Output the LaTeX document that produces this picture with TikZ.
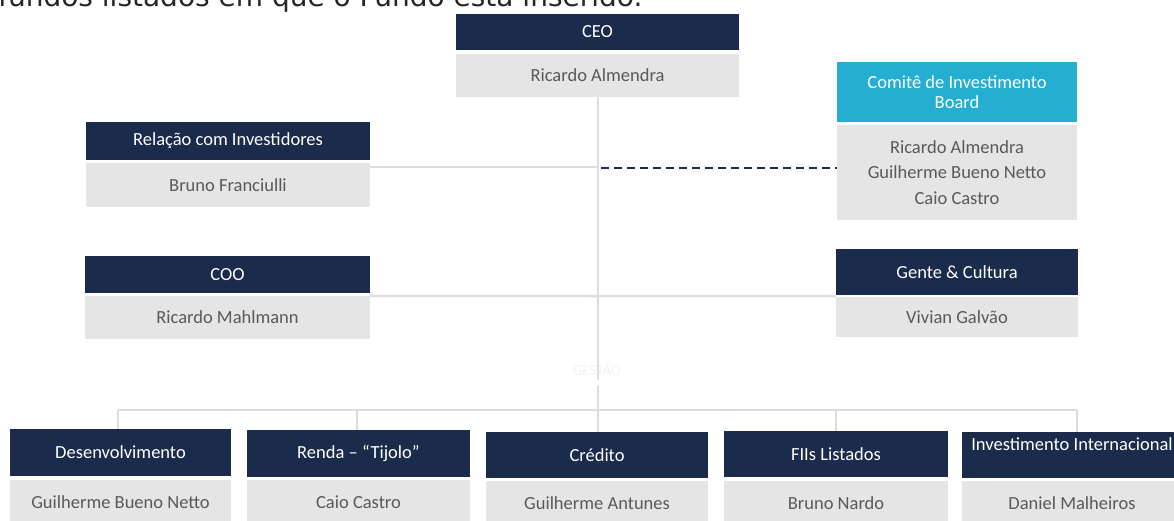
\documentclass[tikz,border=0pt]{standalone}
\usepackage{fontspec}
\setmainfont{Carlito}
\newfontfamily\topfont{DejaVu Sans}
\definecolor{navy}{HTML}{1B2B4B}
\definecolor{cyanb}{HTML}{23AED2}
\definecolor{boxgray}{HTML}{E5E5E5}
\definecolor{txtgray}{HTML}{595959}
\definecolor{linegray}{HTML}{DDDDDD}
\definecolor{ghost}{HTML}{F3F3F3}
\begin{document}
\begin{tikzpicture}[x=1pt,y=-1pt,
  boxtxt/.style={inner sep=0pt, align=center, font=\fontsize{18.5}{22}\selectfont},
  head/.style={boxtxt, fill=navy, text=white},
  headc/.style={boxtxt, fill=cyanb, text=white},
  person/.style={boxtxt, fill=boxgray, text=txtgray},
  conn/.style={draw=linegray, line width=2.5pt},
  dashconn/.style={draw=navy, line width=2pt, dash pattern=on 8pt off 5pt}]
\useasboundingbox (0,0) rectangle (1174,520);
\fill[white] (0,0) rectangle (1174,520);

% partially visible heading text
\node[anchor=base west, inner sep=0pt, text=black!85, font=\topfont\fontsize{28}{32}\selectfont] (toptext) at (-2,6) {fundos listados em que o Fundo está inserido.};

% CEO
\node[head, minimum width=283, minimum height=36] (ceo) at (597.5,32) {CEO};
\node[person, minimum width=283, minimum height=43] (ceon) at (597.5,75.5) {Ricardo Almendra};

% Relação com Investidores
\node[head, minimum width=284, minimum height=38] (ri) at (228,141) {Relação com Investidores};
\node[person, minimum width=284, minimum height=44] (rin) at (228,185) {Bruno Franciulli};

% Comitê
\node[headc, minimum width=240, minimum height=60, font=\fontsize{18.5}{20.5}\selectfont] (ci) at (957,92) {Comitê de Investimento\\Board};
\node[person, minimum width=240, minimum height=95, font=\fontsize{18.5}{25.5}\selectfont] (cin) at (957,172.5) {Ricardo Almendra\\Guilherme Bueno Netto\\Caio Castro};

% COO
\node[head, minimum width=285, minimum height=37] (coo) at (227.5,274.5) {COO};
\node[person, minimum width=285, minimum height=43] (coon) at (227.5,317.5) {Ricardo Mahlmann};

% Gente & Cultura
\node[head, minimum width=242, minimum height=46] (gc) at (957,272) {Gente \& Cultura};
\node[person, minimum width=242, minimum height=40] (gcn) at (957,317) {Vivian Galvão};

% faint label
\node[text=ghost, inner sep=0pt, font=\fontsize{15}{17}\selectfont] (gestao) at (597,370) {GESTÃO};

% bottom row
\node[head, minimum width=221, minimum height=47] (des) at (120.5,452.5) {Desenvolvimento};
\node[person, minimum width=221, minimum height=44] (desn) at (120.5,502) {Guilherme Bueno Netto};
\node[head, minimum width=223, minimum height=47] (ren) at (358.5,453.5) {Renda – “Tijolo”};
\node[person, minimum width=223, minimum height=44] (renn) at (358.5,502) {Caio Castro};
\node[head, minimum width=222, minimum height=46] (cre) at (597,455) {Crédito};
\node[person, minimum width=222, minimum height=44] (cren) at (597,503) {Guilherme Antunes};
\node[head, minimum width=224, minimum height=46] (fii) at (836,454) {FIIs Listados};
\node[person, minimum width=224, minimum height=44] (fiin) at (836,503) {Bruno Nardo};
\node[head, minimum width=220, minimum height=46, font=\fontsize{18.5}{21}\selectfont] (intl) at (1072,455) {Investimento Internacional\\\mbox{}};
\node[person, minimum width=220, minimum height=44] (intln) at (1072,503) {Daniel Malheiros};

% connectors
\coordinate (gapa) at (598,380);
\coordinate (gapb) at (598,386);
\coordinate (hub) at (598,410);
\coordinate (hl) at (118,410);
\coordinate (hr) at (1077,410);
\coordinate (spineRI) at (598,167);
\coordinate (spineCI) at (601,168);
\coordinate (spineCOO) at (598,296);

\draw[conn] (ceon.south -| gapa) -- (gapa);
\draw[conn] (gapb) -- (cre.north -| gapb);
\draw[conn] (hl) -- (hr);
\draw[conn] (hl) -- (hl |- des.north);
\draw[conn] (357,410) -- (357,430);
\draw[conn] (fii.north -| 836,410) -- (836,410);
\draw[conn] (hr) -- (hr |- intl.north);
\draw[conn] (rin.east |- spineRI) -- (spineRI);
\draw[dashconn] (spineCI) -- (spineCI -| cin.west);
\draw[conn] (coon.north east) -- (spineCOO) -- (spineCOO -| gcn.north west);
\end{tikzpicture}
\end{document}
